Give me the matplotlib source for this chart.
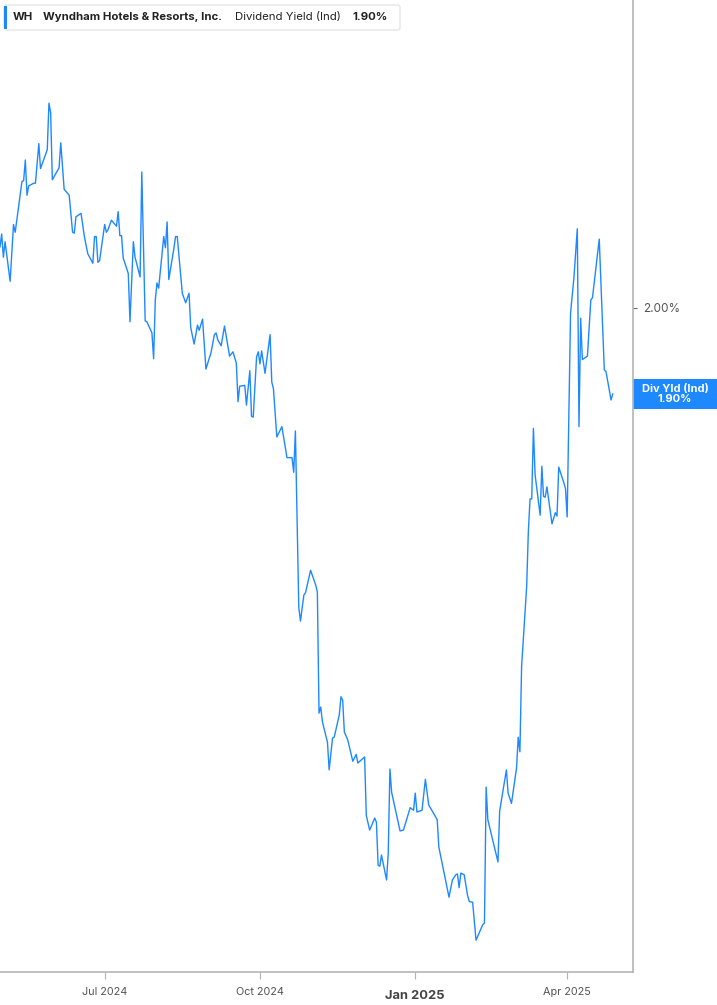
import matplotlib.pyplot as plt
import matplotlib.dates as mdates
import matplotlib.transforms as mtransforms
from matplotlib.patches import FancyBboxPatch, Rectangle
import numpy as np
import pandas as pd

plt.rcParams['font.family'] = ['Inter', 'DejaVu Sans']

# days after 2024-04-30 and dividend yield (%)
start = pd.Timestamp('2024-04-30')
days = [0, 1, 2, 3, 6, 8, 9, 13, 14, 15, 16, 17, 20, 21, 23, 24, 28, 29, 30, 31,
        35, 36, 38, 41, 43, 44, 45, 48, 50, 52, 55, 56, 57, 58, 59, 62, 63, 64, 66, 69,
        70, 71, 72, 73, 76, 77, 79, 80, 83, 84, 86, 87, 90, 91, 92, 93, 94, 97, 98, 99,
        100, 103, 104, 105, 108, 110, 112, 113, 115, 117, 118, 120, 122, 125, 127, 128, 129, 131, 133, 136,
        138, 140, 141, 142, 145, 146, 148, 149, 150, 152, 153, 154, 155, 157, 160, 161, 162, 164, 167, 170,
        173, 174, 175, 177, 178, 180, 181, 184, 187, 188, 189, 190, 191, 194, 195, 197, 198, 201, 202, 203,
        204, 206, 209, 211, 212, 216, 217, 219, 222, 223, 224, 225, 226, 229, 230, 231, 232, 237, 239, 243,
        245, 246, 247, 250, 252, 254, 257, 259, 260, 266, 268, 270, 271, 272, 273, 275, 277, 278, 280, 282,
        286, 287, 288, 289, 295, 296, 300, 301, 303, 306, 307, 308, 309, 312, 313, 314, 315, 316, 317, 320,
        321, 322, 323, 324, 327, 329, 330, 331, 334, 335, 336, 338, 340, 342, 343, 344, 345, 348, 350, 351,
        355, 358, 359, 362, 363]
yld = [2.071, 2.086, 2.059, 2.077, 2.031, 2.097, 2.088, 2.147, 2.148, 2.172, 2.131, 2.142, 2.145, 2.145, 2.191, 2.162, 2.184, 2.238, 2.227, 2.149,
       2.163, 2.192, 2.138, 2.131, 2.088, 2.087, 2.106, 2.110, 2.083, 2.063, 2.052, 2.083, 2.083, 2.053, 2.055, 2.097, 2.088, 2.091, 2.102, 2.095,
       2.112, 2.084, 2.084, 2.058, 2.040, 1.984, 2.077, 2.059, 2.036, 2.158, 1.985, 1.984, 1.971, 1.941, 2.009, 2.029, 2.023, 2.083, 2.070, 2.100,
       2.033, 2.069, 2.083, 2.083, 2.017, 2.006, 2.017, 1.977, 1.958, 1.980, 1.974, 1.987, 1.929, 1.948, 1.969, 1.971, 1.963, 1.956, 1.979, 1.944,
       1.949, 1.936, 1.891, 1.909, 1.910, 1.887, 1.927, 1.874, 1.873, 1.943, 1.949, 1.935, 1.950, 1.924, 1.969, 1.914, 1.906, 1.850, 1.862, 1.826,
       1.826, 1.809, 1.857, 1.652, 1.636, 1.666, 1.669, 1.695, 1.678, 1.670, 1.529, 1.536, 1.519, 1.495, 1.463, 1.500, 1.501, 1.527, 1.548, 1.544,
       1.507, 1.498, 1.473, 1.481, 1.471, 1.478, 1.410, 1.393, 1.407, 1.402, 1.352, 1.351, 1.364, 1.335, 1.366, 1.464, 1.437, 1.392, 1.393, 1.419,
       1.416, 1.436, 1.414, 1.416, 1.452, 1.422, 1.412, 1.405, 1.373, 1.315, 1.335, 1.341, 1.342, 1.326, 1.343, 1.341, 1.317, 1.310, 1.309, 1.265,
       1.283, 1.285, 1.443, 1.405, 1.356, 1.415, 1.463, 1.436, 1.424, 1.465, 1.501, 1.484, 1.583, 1.676, 1.740, 1.778, 1.778, 1.860, 1.806, 1.759,
       1.816, 1.781, 1.780, 1.792, 1.749, 1.762, 1.758, 1.815, 1.797, 1.790, 1.757, 1.994, 2.035, 2.092, 1.862, 1.988, 1.940, 1.944, 2.009, 2.012,
       2.080, 1.928, 1.926, 1.893, 1.900]
dates = [start + pd.Timedelta(days=d) for d in days]

tick_dates = ['2024-07-01', '2024-10-01', '2025-01-01', '2025-04-01']
tick_labels = ['Jul 2024', 'Oct 2024', 'Jan 2025', 'Apr 2025']

blue = '#1e88ff'
grey = '#b5b5b5'

fig = plt.figure(figsize=(7.17, 10.05), dpi=100)
ax = fig.add_axes([0, 1 - 972/1005, 633/717, 972/1005])
ax.plot(dates, yld, color=blue, lw=1.0)

ax.set_xlim(pd.Timestamp('2024-04-30'), pd.Timestamp('2025-05-10'))
ax.set_ylim(1.228, 2.358)

for s in ['left', 'top']:
    ax.spines[s].set_visible(False)
for s in ['right', 'bottom']:
    ax.spines[s].set_color(grey)
    ax.spines[s].set_linewidth(1.2)

ax.yaxis.tick_right()
ax.set_yticks([2.0])
ax.set_yticklabels(['2.00%'])
ax.tick_params(axis='y', length=3, color='#666666', labelcolor='#555555', labelsize=8.5, pad=4)

ax.set_xticks([pd.Timestamp(d) for d in tick_dates])
ax.set_xticklabels(tick_labels)
ax.tick_params(axis='x', length=5, color=grey, labelcolor='#555555', labelsize=7.8, pad=6)
for lbl in ax.get_xticklabels():
    if lbl.get_text() == 'Jan 2025':
        lbl.set_fontweight('bold')
        lbl.set_fontsize(9.3)
        lbl.set_color('#444444')
        lbl.set_y(-0.003)

# last value label on the right
last = yld[-1]
trans = mtransforms.blended_transform_factory(ax.transAxes, ax.transData)
h = 30 / 860
ax.add_patch(Rectangle((1.0, last - h/2), 84/633, h, transform=trans, clip_on=False,
                       facecolor=blue, edgecolor='none'))
ax.text(1.0 + 42/633, last, 'Div Yld (Ind)\n1.90%', transform=trans, ha='center', va='center',
        color='white', fontsize=8, fontweight='bold', linespacing=1.0)

# header box
fig.patches.append(FancyBboxPatch((4/717, 1 - 30/1005), 396/717, 25/1005,
                                  boxstyle='round,pad=0,rounding_size=0.003',
                                  transform=fig.transFigure, facecolor='white',
                                  edgecolor='#e6e6e6', lw=1, zorder=5))
fig.patches.append(Rectangle((4/717, 1 - 29/1005), 3/717, 23/1005, transform=fig.transFigure,
                             facecolor=blue, edgecolor='none', zorder=6))
ty = 1 - 17/1005
fs = 8.2
fig.text(13/717, ty, 'WH', fontsize=fs, fontweight='bold', color='#222222', va='center', zorder=7)
fig.text(43/717, ty, 'Wyndham Hotels & Resorts, Inc.', fontsize=fs, fontweight='bold',
         color='#222222', va='center', zorder=7)
fig.text(235/717, ty, 'Dividend Yield (Ind)', fontsize=fs, color='#222222', va='center', zorder=7)
fig.text(352/717, ty, '1.90%', fontsize=fs, fontweight='bold', color='#222222', va='center', zorder=7)

fig.savefig('out.png', dpi=100)
